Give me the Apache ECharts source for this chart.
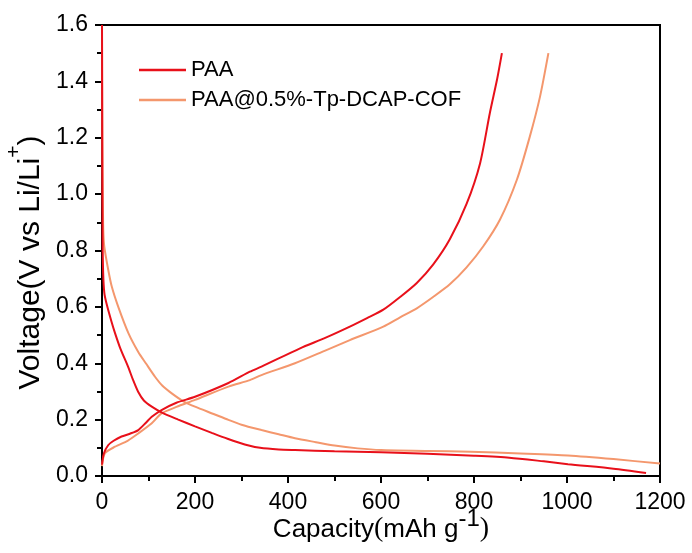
<!DOCTYPE html>
<html>
<head>
<meta charset="utf-8">
<script src="https://cdn.jsdelivr.net/npm/echarts@6/dist/echarts.min.js"></script>
<style>html,body{margin:0;padding:0;background:#fff;}#c{width:692px;height:553px;}</style>
</head>
<body>
<div id="c"></div>
<script>
var seriesNames = ['PAA', 'PAA@0.5%-Tp-DCAP-COF'];
var xTicks = [0, 200, 400, 600, 800, 1000, 1200];
var yTicks = [0.0, 0.2, 0.4, 0.6, 0.8, 1.0, 1.2, 1.4, 1.6];

var paaDisCap = [0,0.5,1.2,2.5,5,10,20,28,40,56,67,78,90,107,130,164,200,236,270,307,340,380,415,500,600,700,800,876,950,1002,1100,1170];
var paaDisV   = [1.6,1.2,0.85,0.72,0.65,0.61,0.55,0.507,0.45,0.388,0.34,0.298,0.268,0.246,0.224,0.2,0.176,0.153,0.132,0.112,0.1,0.094,0.092,0.088,0.084,0.079,0.072,0.065,0.052,0.042,0.026,0.011];

var paaChgCap = [0,4,13.6,25,42,60,78,95,107,128,160,200,272,318,343,426,480,533,570,605,641,677,712,748,784,813,834,850,860];
var paaChgV   = [0.04,0.08,0.11,0.125,0.14,0.15,0.163,0.19,0.21,0.234,0.26,0.281,0.33,0.37,0.388,0.453,0.49,0.53,0.56,0.59,0.635,0.685,0.75,0.84,0.965,1.109,1.287,1.41,1.5];

var cofDisCap = [0,0.8,2,3,5,13.6,21,35,57,78,95,114,130,150,175,200,240,272,300,343,380,415,460,500,550,600,700,792,900,1002,1100,1200];
var cofDisV   = [1.6,1.2,0.95,0.86,0.813,0.73,0.672,0.6,0.506,0.44,0.398,0.352,0.32,0.293,0.265,0.246,0.22,0.199,0.182,0.163,0.148,0.134,0.12,0.108,0.098,0.092,0.089,0.086,0.08,0.073,0.06,0.044];

var cofChgCap = [0,6,28,55,78,107,128,160,200,272,318,343,415,480,533,605,641,677,712,748,784,820,856,892,920,942,960];
var cofChgV   = [0.035,0.08,0.104,0.125,0.151,0.187,0.222,0.245,0.27,0.317,0.34,0.358,0.4,0.445,0.482,0.53,0.563,0.595,0.635,0.68,0.74,0.815,0.91,1.05,1.204,1.346,1.5];

function zip(a, b) { return a.map(function (v, i) { return [v, b[i]]; }); }

var RED = '#E8101A', ORANGE = '#F4976D';
var FONT = 'Liberation Sans';

function lineSeries(name, color, cap, v) {
  return {
    name: name, type: 'line', data: zip(cap, v), symbol: 'none',
    smooth: 0.25,
    lineStyle: { color: color, width: 2 }, itemStyle: { color: color },
    emphasis: { disabled: true }
  };
}

var chart = echarts.init(document.getElementById('c'), null, { renderer: 'canvas' });
chart.setOption({
  animation: false,
  backgroundColor: '#fff',
  grid: { left: 102, right: 32, top: 25, bottom: 77, containLabel: false, outerBoundsMode: 'none',
    show: true, borderColor: '#000', borderWidth: 2, backgroundColor: 'transparent' },
  legend: {
    orient: 'vertical', left: 139, top: 59, padding: 0, itemWidth: 47, itemHeight: 2.5, itemGap: 8,
    icon: 'rect', data: seriesNames,
    textStyle: { fontFamily: FONT, fontSize: 22, color: '#000' }
  },
  xAxis: {
    type: 'value', min: xTicks[0], max: xTicks[xTicks.length - 1], interval: 200,
    axisLine: { lineStyle: { color: '#000', width: 2 } },
    axisTick: { show: true, length: 7, lineStyle: { color: '#000', width: 2 } },
    minorTick: { show: true, splitNumber: 2, length: 5, lineStyle: { color: '#000', width: 2 } },
    splitLine: { show: false },
    axisLabel: { fontFamily: FONT, fontSize: 23, color: '#000', margin: 15,
      formatter: function (v) { return String(v); } },
    name: '{n|Capacity}{p|(}{n|mAh g}{s|-1}{p|)}',
    nameLocation: 'middle', nameGap: 31, nameMoveOverlap: false,
    nameTextStyle: {
      rich: {
        n: { fontFamily: FONT, fontSize: 26, color: '#000', lineHeight: 36, verticalAlign: 'bottom' },
        p: { fontFamily: 'Liberation Serif', fontSize: 28, color: '#000', lineHeight: 36, verticalAlign: 'bottom' },
        s: { fontFamily: FONT, fontSize: 24, color: '#000', lineHeight: 36, verticalAlign: 'top' }
      }
    }
  },
  yAxis: {
    type: 'value', min: 0, max: 1.6, interval: 0.2,
    axisLine: { lineStyle: { color: '#000', width: 2 } },
    axisTick: { show: true, length: 7, lineStyle: { color: '#000', width: 2 } },
    minorTick: { show: true, splitNumber: 2, length: 5, lineStyle: { color: '#000', width: 2 } },
    splitLine: { show: false },
    axisLabel: { fontFamily: FONT, fontSize: 23, color: '#000', margin: 14,
      formatter: function (v) { return v.toFixed(1); } },
    name: '{n|Voltage(V vs Li/Li}{s|+}{n|)}',
    nameLocation: 'middle', nameGap: 56, nameRotate: 90, nameMoveOverlap: false,
    nameTextStyle: {
      padding: [0, 24, 0, 0],
      rich: {
        n: { fontFamily: FONT, fontSize: 30, color: '#000', lineHeight: 42, verticalAlign: 'bottom' },
        s: { fontFamily: FONT, fontSize: 21, color: '#000', lineHeight: 42, verticalAlign: 'top' }
      }
    }
  },
  series: [
    lineSeries(seriesNames[1], ORANGE, cofDisCap, cofDisV),
    lineSeries(seriesNames[1], ORANGE, cofChgCap, cofChgV),
    lineSeries(seriesNames[0], RED, paaDisCap, paaDisV),
    lineSeries(seriesNames[0], RED, paaChgCap, paaChgV)
  ]
});
</script>
</body>
</html>
